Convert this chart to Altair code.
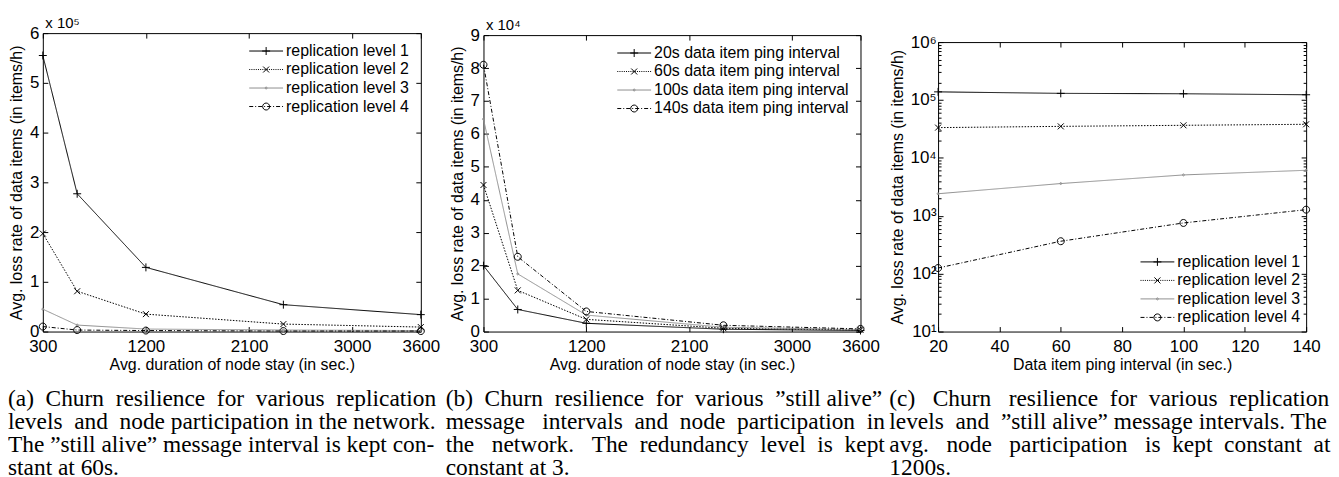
import altair as alt
import pandas as pd

# ---------------- data ----------------
stay_a = [300, 600, 1200, 2400, 3600]
rep_names = ["replication level 1", "replication level 2",
             "replication level 3", "replication level 4"]
a_rep1 = [555000, 277000, 129000, 54000, 34000]
a_rep2 = [197000, 81000, 35000, 15000, 9000]
a_rep3 = [45000, 13000, 5000, 3000, 2000]
a_rep4 = [10000, 3000, 2000, 1000, 1000]

stay_b = [300, 600, 1200, 2400, 3600]
ping_names = ["20s data item ping interval", "60s data item ping interval",
              "100s data item ping interval", "140s data item ping interval"]
b_p20 = [20000, 6700, 2500, 700, 300]
b_p60 = [44500, 12500, 3700, 1000, 500]
b_p100 = [64500, 17500, 5000, 1300, 600]
b_p140 = [81000, 22700, 6100, 1900, 800]

ping_c = [20, 60, 100, 140]
c_rep1 = [138000, 130000, 128000, 123000]
c_rep2 = [33300, 35000, 36500, 38000]
c_rep3 = [2400, 3600, 5070, 6100]
c_rep4 = [125, 363, 751, 1274]

a_xticks = [300, 1200, 2100, 3000, 3600]
a_yticks = [0, 100000, 200000, 300000, 400000, 500000, 600000]
b_xticks = [300, 1200, 2100, 3000, 3600]
b_yticks = [0, 10000, 20000, 30000, 40000, 50000, 60000, 70000, 80000, 90000]
c_xticks = [20, 40, 60, 80, 100, 120, 140]
c_yticks = [10, 100, 1000, 10000, 100000, 1000000]
c_yminor = [m * 10 ** k for k in range(1, 6) for m in range(2, 10)]

ytitle = "Avg. loss rate of data items (in items/h)"
xtitle_ab = "Avg. duration of node stay (in sec.)"
xtitle_c = "Data item ping interval (in sec.)"

cap_a = ["(a) Churn resilience for various replication",
         "levels and node participation in the network.",
         "The \u201dstill alive\u201d message interval is kept con-",
         "stant at 60s."]
cap_b = ["(b) Churn resilience for various \u201dstill alive\u201d",
         "message intervals and node participation in",
         "the network. The redundancy level is kept",
         "constant at 3."]
cap_c = ["(c) Churn resilience for various replication",
         "levels and \u201dstill alive\u201d message intervals. The",
         "avg. node participation is kept constant at",
         "1200s."]


def justify(line, n_extra):
    words = line.split(" ")
    gaps = len(words) - 1
    if gaps <= 0 or n_extra <= 0:
        return line
    out = words[0]
    for i, w in enumerate(words[1:]):
        k = n_extra // gaps + (1 if i < n_extra % gaps else 0)
        out += " " + "\u00a0" * k + w
    return out


def long_df(xs, names, series):
    rows = []
    for name, vals in zip(names, series):
        for x, y in zip(xs, vals):
            rows.append({"x": x, "y": y, "s": name})
    return pd.DataFrame(rows)


df_a = long_df(stay_a, rep_names, [a_rep1, a_rep2, a_rep3, a_rep4])
df_b = long_df(stay_b, ping_names, [b_p20, b_p60, b_p100, b_p140])
df_c = long_df(ping_c, rep_names, [c_rep1, c_rep2, c_rep3, c_rep4])

# ---------------- styling ----------------
SANS = "Liberation Sans"
SERIF = "Liberation Serif"
GRAY = "#8f8f8f"
COLORS = ["black", "black", GRAY, "black"]
DASHES = [[1, 0], [1.5, 1.5], [1, 0], [4, 2, 1, 2]]
H = 300
TICK_FS = 17
TITLE_FS = 16
LEG_FS = 16
CAP_FS = 23.5


def f(v):
    return f"{v:.3f}"


def plus(h, k):
    a = h / k
    return f"M{f(-a)},0H{f(a)}M0,{f(-a)}V{f(a)}"


def cross(h, k):
    a = h / k
    return f"M{f(-a)},{f(-a)}L{f(a)},{f(a)}M{f(-a)},{f(a)}L{f(a)},{f(-a)}"


def circ(r, k):
    a = r / k
    return f"M{f(a)},0A{f(a)},{f(a)},0,1,1,{f(-a)},0A{f(a)},{f(a)},0,1,1,{f(a)},0Z"


def line_path(pattern, k, half):
    if not pattern:
        return f"M{f(-half / k)},0H{f(half / k)}"
    parts, x, i = [], -half, 0
    while x < half:
        on, off = pattern[i % len(pattern)]
        x2 = min(x + on, half)
        parts.append(f"M{f(x / k)},0H{f(x2 / k)}")
        x = x2 + off
        i += 1
    return "".join(parts)


KP = 5.0  # point size 100 -> 5 px per unit
MARKERS = [plus(4, KP), cross(3, KP), circ(1.0, KP), circ(3.5, KP)]
KL = 6.0  # legend symbol size 144 -> 6 px per unit
HALF = 17.0
LEG_SYMS = [
    line_path(None, KL, HALF) + plus(4, KL),
    line_path([(1, 1.2)], KL, HALF) + cross(3, KL),
    line_path(None, KL, HALF) + circ(1.0, KL),
    line_path([(4, 2), (1, 2)], KL, HALF) + circ(3.5, KL),
]


def panel(df, names, xdom, xticks, xtitle, ydom, ylog, yticks, ylabel_expr,
          W, VW, top, exp_title, leg_x, leg_y, caption, cap_dx, minor=None,
          ytitle_pad=5, ylabel_pad=4):
    xs = alt.Scale(domain=xdom, range=[0, W], nice=False, zero=False)
    ys = alt.Scale(type="log" if ylog else "linear", domain=ydom,
                   range=[H, top], nice=False, zero=False)
    cscale = alt.Scale(domain=names, range=COLORS)

    common_tick = dict(labels=False, ticks=True, tickSize=5, tickColor="black",
                       tickWidth=1, grid=False, title=None)

    ax_x_main = alt.Axis(orient="bottom", values=xticks, ticks=False, tickSize=0,
                         domain=True, domainColor="black", domainWidth=1, grid=False,
                         labelFont=SANS, labelFontSize=TICK_FS, labelColor="black",
                         labelPadding=7, labelFlush=False, labelOverlap=False,
                         format="d",
                         title=xtitle, titleFont=SANS, titleFontSize=TITLE_FS,
                         titleFontWeight="normal", titleColor="black", titlePadding=2)
    ax_y_main = alt.Axis(orient="left", values=yticks, labelExpr=ylabel_expr,
                         ticks=False, tickSize=0, domain=True, domainColor="black",
                         domainWidth=1, grid=False, labelFont=SANS,
                         labelFontSize=TICK_FS, labelColor="black",
                         labelPadding=ylabel_pad, labelFlush=False,
                         labelOverlap=False, title=ytitle, titleFont=SANS,
                         titleFontSize=TITLE_FS, titleFontWeight="normal",
                         titleColor="black", titlePadding=ytitle_pad)
    ax_x_topframe = alt.Axis(orient="bottom", offset=-(H - top), values=xticks,
                             domain=True, domainColor="black", domainWidth=1,
                             **common_tick)
    ax_y_rightframe = alt.Axis(orient="left", offset=-W, values=yticks,
                               domain=True, domainColor="black", domainWidth=1,
                               **common_tick)
    ax_x_bot_in = alt.Axis(orient="top", offset=-H, values=xticks, domain=False,
                           **common_tick)
    ax_y_left_in = alt.Axis(orient="right", offset=-VW, values=yticks, domain=False,
                            **common_tick)

    lines = alt.Chart(df).mark_line(strokeWidth=1).encode(
        x=alt.X("x:Q", scale=xs, axis=ax_x_main),
        y=alt.Y("y:Q", scale=ys, axis=ax_y_main),
        color=alt.Color("s:N", scale=cscale, legend=None),
        strokeDash=alt.StrokeDash("s:N", scale=alt.Scale(domain=names, range=DASHES),
                                  legend=None),
    )
    points = alt.Chart(df).mark_point(filled=False, strokeWidth=1, size=100,
                                      opacity=1).encode(
        x=alt.X("x:Q", scale=xs, axis=ax_x_topframe),
        y=alt.Y("y:Q", scale=ys, axis=ax_y_rightframe),
        color=alt.Color("s:N", scale=cscale, legend=None),
        shape=alt.Shape("s:N", scale=alt.Scale(domain=names, range=MARKERS),
                        legend=None),
    )
    leg = alt.Legend(orient="none", legendX=leg_x, legendY=leg_y, title=None,
                     padding=0, symbolSize=144, symbolStrokeWidth=1,
                     labelFont=SANS, labelFontSize=LEG_FS, labelColor="black",
                     labelOffset=12, rowPadding=2.6, labelLimit=400)
    legend_layer = alt.Chart(df).transform_filter("false").mark_point(
        filled=False, strokeWidth=1, opacity=1).encode(
        x=alt.X("x:Q", scale=xs, axis=ax_x_bot_in),
        y=alt.Y("y:Q", scale=ys, axis=ax_y_left_in),
        color=alt.Color("s:N", scale=cscale, legend=leg),
        shape=alt.Shape("s:N", scale=alt.Scale(domain=names, range=LEG_SYMS),
                        legend=leg),
    )
    layers = [lines, points, legend_layer]

    if exp_title is not None:
        ax_exp = alt.Axis(orient="top", labels=False, ticks=False, domain=False,
                          grid=False, title=exp_title, titleFont=SANS,
                          titleFontSize=15, titleFontWeight="normal",
                          titleColor="black", titleAnchor="start", titleAlign="left",
                          titleBaseline="alphabetic", titleX=2, titleY=-6 + top)
        layers.append(alt.Chart(df).transform_filter("false").mark_point().encode(
            x=alt.X("x:Q", scale=xs, axis=ax_exp),
            y=alt.Y("y:Q", scale=ys, axis=None)))
    if minor is not None:
        mt = dict(labels=False, ticks=True, tickSize=3, tickColor="black",
                  tickWidth=1, grid=False, title=None, domain=False)
        layers.append(alt.Chart(df).transform_filter("false").mark_point().encode(
            x=alt.X("x:Q", scale=xs, axis=None),
            y=alt.Y("y:Q", scale=ys, axis=alt.Axis(orient="right", offset=-VW,
                                                   values=minor, **mt))))
        layers.append(alt.Chart(df).transform_filter("false").mark_point().encode(
            x=alt.X("x:Q", scale=xs, axis=None),
            y=alt.Y("y:Q", scale=ys, axis=alt.Axis(orient="left", offset=-W,
                                                   values=minor, **mt))))

    title = alt.TitleParams(text=caption, orient="bottom", anchor="start",
                            frame="group", dx=cap_dx, offset=15, font=SERIF,
                            fontSize=CAP_FS, fontWeight="normal", lineHeight=23,
                            color="black", baseline="top")
    return alt.layer(*layers).resolve_scale(
        color="independent", shape="independent"
    ).resolve_axis(x="independent", y="independent").properties(
        width=VW, height=H, title=title)


cap_a_j = [justify(l, n) for l, n in zip(cap_a, [5, 2, 0, 0])]
cap_b_j = [justify(l, n) for l, n in zip(cap_b, [5, 6, 8, 0])]
cap_c_j = [justify(l, n) for l, n in zip(cap_c, [7, 2, 9, 0])]

pa = panel(df_a, rep_names, [300, 3600], a_xticks, xtitle_ab, [0, 600000], False,
           a_yticks, "datum.value / 100000", W=380, VW=443, top=0,
           exp_title="x 10\u2075", leg_x=216.5, leg_y=10, caption=cap_a_j, cap_dx=-35)
pb = panel(df_b, ping_names, [300, 3600], b_xticks, xtitle_ab, [0, 90000], False,
           b_yticks, "datum.value / 10000", W=379, VW=457, top=2,
           exp_title="x 10\u2074", leg_x=143.5, leg_y=12, caption=cap_b_j, cap_dx=-38)
pc = panel(df_c, rep_names, [20, 140], c_xticks, xtitle_c, [10, 1000000], True,
           c_yticks,
           "'10' + ['\u2070','\u00b9','\u00b2','\u00b3','\u2074','\u2075','\u2076'][round(log(datum.value)/LN10)]",
           W=370, VW=370, top=9, exp_title=None, leg_x=212.5, leg_y=222,
           caption=cap_c_j, cap_dx=-49, minor=c_yminor, ytitle_pad=5, ylabel_pad=2)

chart = alt.hconcat(pa, pb, pc, spacing=0, bounds="flush").properties(
    padding={"left": 0, "top": 6, "right": 0, "bottom": 0}
).configure_view(stroke=None).configure_axis(grid=False).configure_legend(
    labelFontSize=LEG_FS, labelFont=SANS)

chart.save("out.html", embed_options={"renderer": "svg", "actions": False})
